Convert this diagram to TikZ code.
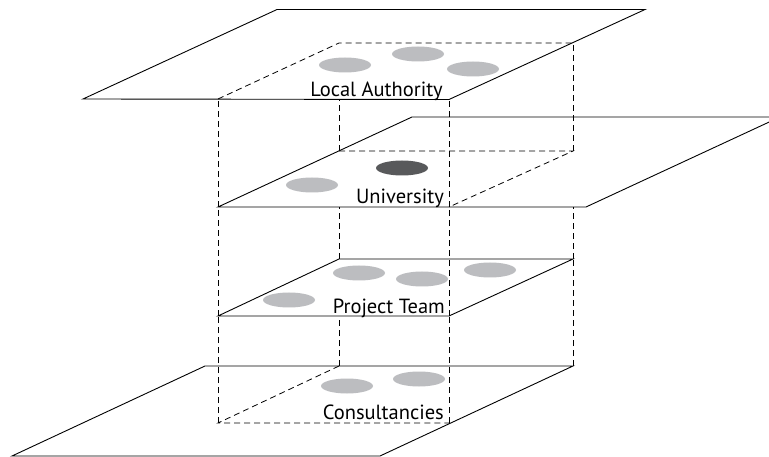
\documentclass[tikz,border=0pt]{standalone}
\usepackage{fontspec}
\setmainfont{PT Sans}
\definecolor{memberlight}{HTML}{BCBDC0}
\definecolor{memberdark}{HTML}{58595B}
\begin{document}
\begin{tikzpicture}[x=1pt,y=-1pt,
  plane/.style={draw=black, fill=white, line width=0.9pt, line join=miter},
  hidden/.style={draw=black, dash pattern=on 6pt off 4pt, line width=0.8pt},
  levellabel/.style={anchor=base east, inner sep=0pt, font=\fontsize{20.5}{22}\selectfont},
  member/.style={fill=memberlight},
  lead/.style={fill=memberdark}]
\useasboundingbox (0,0) rectangle (769,457);
\clip (0,0) rectangle (769,457);

% corners of the dashed prism on each level (front-left, back-left, back-right, front-right)
\foreach \k/\yf/\yb in {1/99/43, 2/207/151, 3/316/259, 4/423/366} {
  \coordinate (fl\k) at (218,\yf);
  \coordinate (bl\k) at (339,\yb);
  \coordinate (br\k) at (573,\yb);
  \coordinate (fr\k) at (449,\yf);
}

% ---- Consultancies (lowest plane)
\path[plane] (12,456) -- (205,366) -- (br4) -- (380,456) -- cycle;
\draw[hidden] (bl4) -- (fl4) -- (fr4);
\fill[member] (347,386) ellipse [x radius=26, y radius=7.5];
\fill[member] (419,379) ellipse [x radius=26, y radius=7.5];
\node[levellabel] (consult) at (444,419) {Consultancies};

% edges of the prism between Consultancies and Project Team
\foreach \a in {fl,bl,br,fr} \draw[hidden] (\a4) -- (\a3);

% ---- Project Team
\path[plane] (fl3) -- (bl3) -- (br3) -- (fr3) -- cycle;
\fill[member] (289,300) ellipse [x radius=26, y radius=7.5];
\fill[member] (359,273) ellipse [x radius=26, y radius=7.5];
\fill[member] (422,279) ellipse [x radius=26, y radius=7.5];
\fill[member] (490,270) ellipse [x radius=26, y radius=7.5];
\node[levellabel] (team) at (445,313) {Project Team};

% edges of the prism between Project Team and University
\foreach \a in {fl,bl,br,fr} \draw[hidden] (\a3) -- (\a2);

% ---- University
\path[plane] (fl2) -- (412,117) -- (780,117) -- (586,207) -- cycle;
\draw[hidden] (bl2) -- (br2) -- (fr2);
\fill[member] (312,185) ellipse [x radius=26, y radius=7.5];
\fill[lead] (402,168) ellipse [x radius=26, y radius=7.5];
\node[levellabel] (uni) at (444,204) {University};

% edges of the prism between University and Local Authority
\foreach \a in {fl,bl,br,fr} \draw[hidden] (\a2) -- (\a1);

% ---- Local Authority (top plane)
\path[plane] (83,99) -- (277,9.5) -- (645,9.5) -- (449,99.5) -- cycle;
\draw[hidden] (fl1) -- (bl1) -- (br1);
\fill[member] (345,65) ellipse [x radius=26, y radius=7.5];
\fill[member] (418,54) ellipse [x radius=26, y radius=7.5];
\fill[member] (473,69) ellipse [x radius=26, y radius=7.5];
\node[levellabel] (authority) at (443,97) {Local Authority};
\end{tikzpicture}
\end{document}
